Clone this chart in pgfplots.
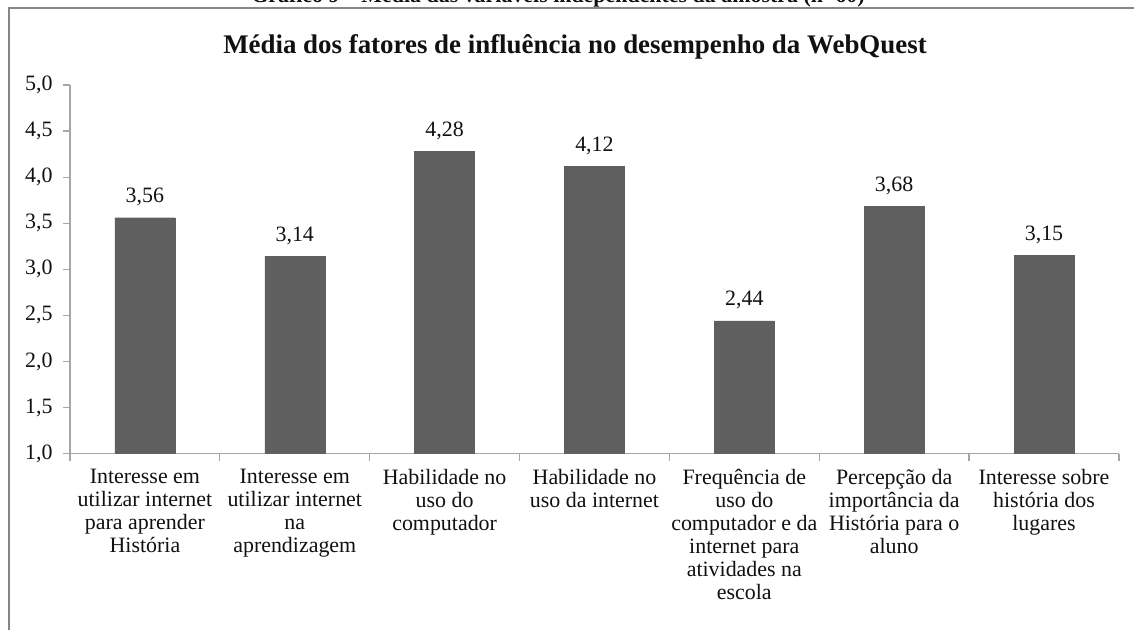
\documentclass[border=0pt]{standalone}
\usepackage{pgfplots}
\pgfplotsset{compat=1.18}
\usepackage{fontspec}
\setmainfont{Liberation Serif}
\definecolor{barc}{HTML}{5F5F5F}
\definecolor{axc}{HTML}{A6A6A6}
\definecolor{framec}{HTML}{868686}
\definecolor{txt}{HTML}{111111}

\begin{document}
\begin{tikzpicture}[x=1bp,y=1bp]
\useasboundingbox (0,0) rectangle (1134,630);
\clip (0,0) rectangle (1134,630);
\fill[white] (0,0) rectangle (1134,630);
\draw[framec, line width=2.2bp] (9,-20) rectangle (1160,622);
\node[anchor=base, txt, font=\fontsize{22}{25}\selectfont\bfseries] at (558,627) {Gráfico 9 – Média das variáveis independentes da amostra (n=60)};
\node[anchor=base, txt, font=\fontsize{27}{30}\selectfont\bfseries] at (575,576) {Média dos fatores de influência no desempenho da WebQuest};
\begin{axis}[
  at={(70bp,176.3bp)}, anchor=south west,
  scale only axis, width=1049bp, height=368.7bp,
  ybar, bar width=60bp,
  xmin=-0.5, xmax=6.5, ymin=1, ymax=5,
  axis lines=left,
  axis line style={-, draw=axc, line width=1.5bp},
  tick align=outside,
  major tick length=7bp,
  /pgf/number format/assume math mode=true,
  ytick={1,1.5,2,2.5,3,3.5,4,4.5,5},
  yticklabel style={txt, xshift=-7bp, font=\fontsize{22}{25}\selectfont, /pgf/number format/.cd, fixed, fixed zerofill, precision=1, use comma},
  ytick style={draw=axc, line width=1.2bp},
  xtick={0,1,2,3,4,5,6},
  xtick style={draw=none},
  xticklabels={{Interesse em\\utilizar internet\\para aprender\\História},
               {Interesse em\\utilizar internet\\na\\aprendizagem},
               {Habilidade no\\uso do\\computador},
               {Habilidade no\\uso da internet},
               {Frequência de\\uso do\\computador e da\\internet para\\atividades na\\escola},
               {Percepção da\\importância da\\História para o\\aluno},
               {Interesse sobre\\história dos\\lugares}},
  xticklabel style={txt, align=center, font=\fontsize{22}{23}\selectfont, yshift=-5bp},
  extra x ticks={-0.5,0.5,1.5,2.5,3.5,4.5,5.5,6.5},
  extra x tick labels={},
  extra x tick style={xtick style={draw=axc, line width=1.2bp}},
  nodes near coords={\pgfmathprintnumber[fixed,fixed zerofill,precision=2,use comma,assume math mode=true]{\pgfplotspointmeta}},
  every node near coord/.append style={txt, anchor=base, yshift=15bp, font=\fontsize{22}{25}\selectfont},
  clip=false,
]
\addplot[fill=barc, draw=barc] coordinates {
  (0,3.56) (1,3.14) (2,4.28) (3,4.12) (4,2.44) (5,3.68) (6,3.15)
};
\end{axis}
\end{tikzpicture}
\end{document}
